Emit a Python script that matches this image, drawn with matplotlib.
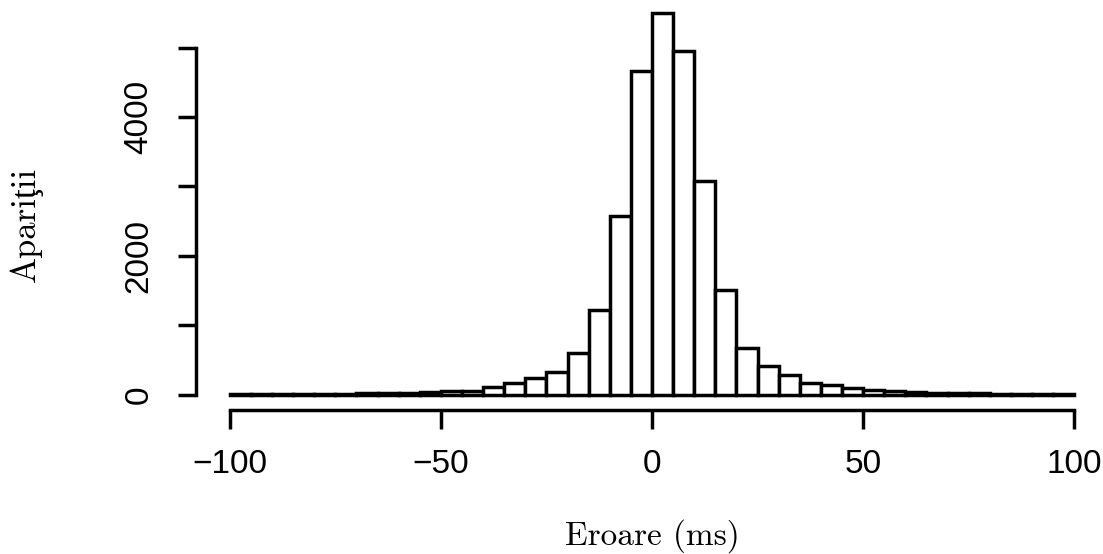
import numpy as np
import matplotlib
matplotlib.use("Agg")
import matplotlib.pyplot as plt

# histogram of timing error, 5 ms bins from -100 to 100
bin_edges = np.arange(-100, 105, 5)
counts = [5, 6, 8, 10, 12, 15, 20, 25, 32, 40,
          50, 60, 115, 165, 245, 330, 595, 1225, 2575, 4660,
          5500, 4950, 3080, 1510, 675, 410, 280, 175, 140, 95,
          70, 55, 40, 32, 25, 20, 16, 13, 10, 8]
x_ticks = [-100, -50, 0, 50, 100]
y_ticks = [0, 1000, 2000, 3000, 4000, 5000]
y_ticklabels = ["0", "", "2000", "", "4000", ""]

label_font = ["cmr10", "Liberation Serif", "DejaVu Serif"]
tick_font = ["Liberation Sans", "DejaVu Sans"]

W, H = 1103, 554
fig = plt.figure(figsize=(W / 100, H / 100), dpi=100)
ax = fig.add_axes([196 / W, 144 / H, (1108 - 196) / W, (556.5 - 144) / H])

ax.bar(bin_edges[:-1], counts, width=5, align="edge",
       facecolor="white", edgecolor="black", linewidth=2.5)

ax.set_xlim(-108, 108)
ax.set_ylim(-220, 5720)

for s in ["top", "right"]:
    ax.spines[s].set_visible(False)
ax.spines["left"].set_bounds(0, 5000)
ax.spines["bottom"].set_bounds(-100, 100)
ax.spines["left"].set_linewidth(2.5)
ax.spines["bottom"].set_linewidth(2.5)

ax.set_xticks(x_ticks)
ax.set_xticklabels([str(v).replace("-", "\u2212") for v in x_ticks],
                   fontsize=24, family=tick_font)
ax.set_yticks(y_ticks)
ax.set_yticklabels(y_ticklabels, fontsize=24, family=tick_font,
                   rotation=90, va="center")
ax.tick_params(axis="x", length=14, width=2.5, pad=14)
ax.tick_params(axis="y", length=13, width=2.5, pad=17)

ax.set_xlabel("Eroare (ms)", fontsize=24, family=label_font, labelpad=28)
ax.set_ylabel("Apariţii", fontsize=25, family=label_font)
ax.yaxis.set_label_coords(-0.168, 0.451)

fig.savefig("out.png", dpi=100)
